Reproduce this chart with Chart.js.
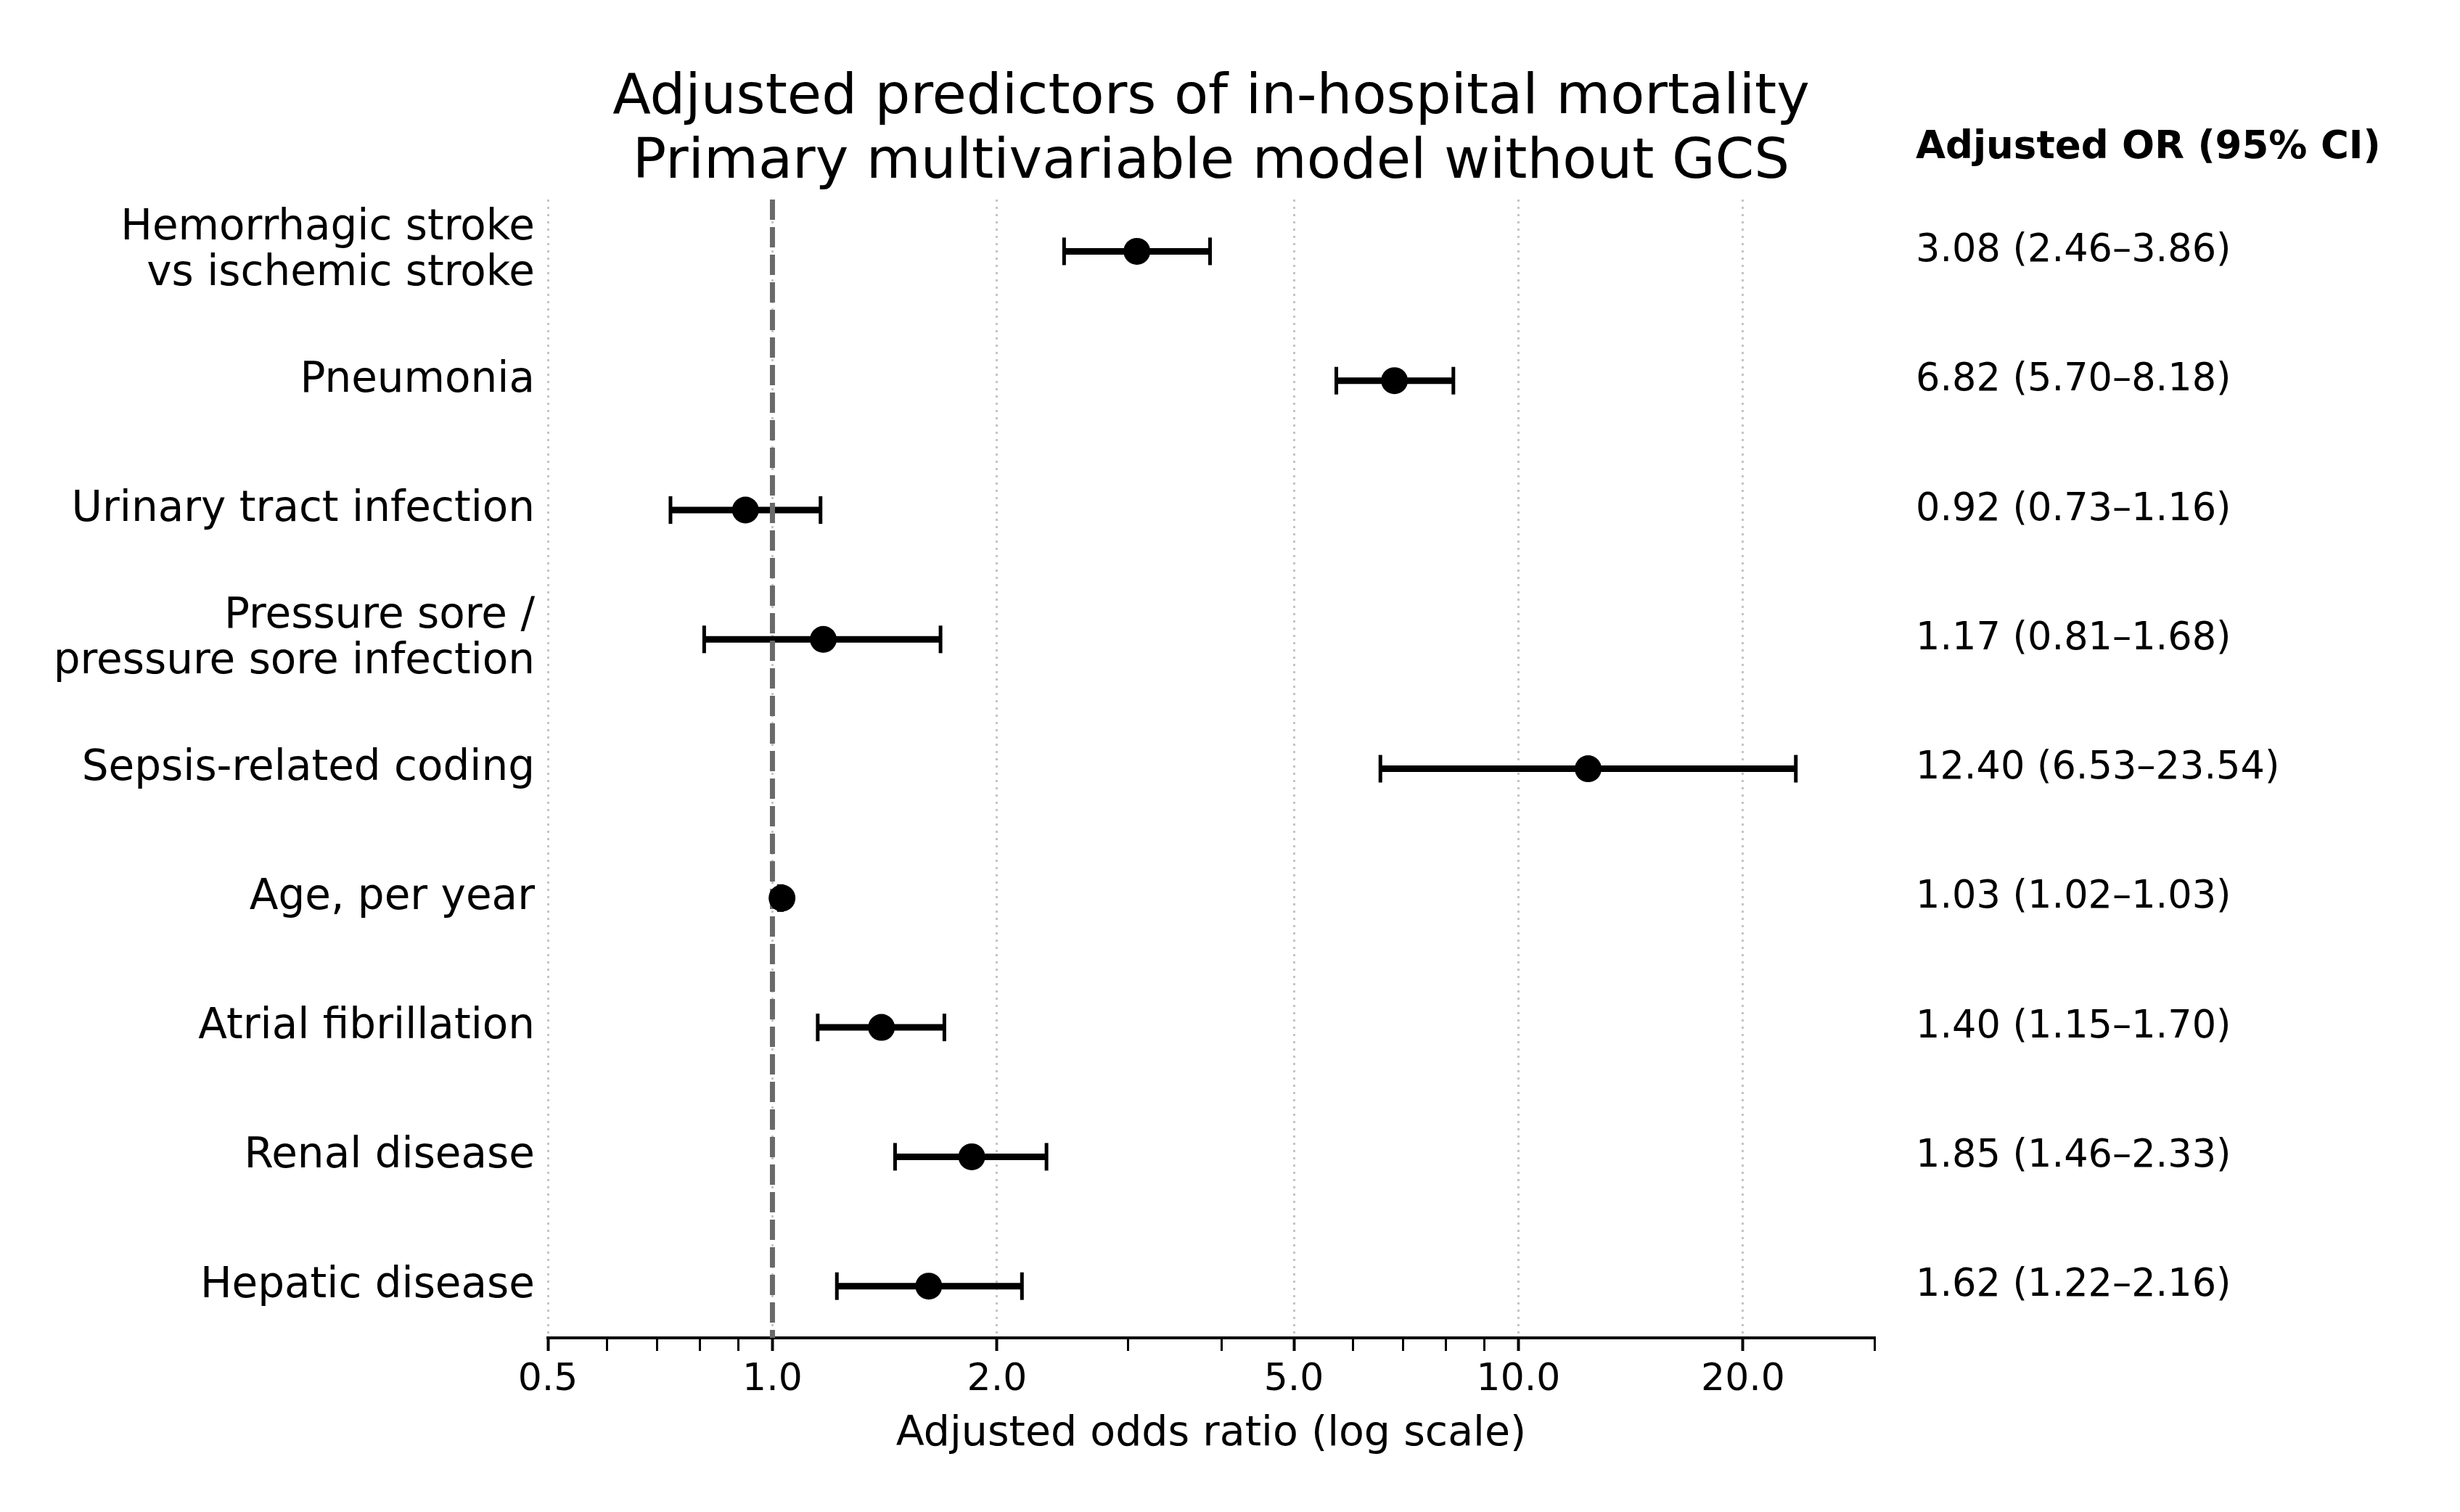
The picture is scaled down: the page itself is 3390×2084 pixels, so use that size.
<!DOCTYPE html>
<html>
<head>
<meta charset="utf-8">
<title>Adjusted predictors of in-hospital mortality</title>
<script src="https://cdn.jsdelivr.net/npm/chart.js@4.4.1/dist/chart.umd.min.js"></script>
<style>
  html, body { margin: 0; padding: 0; background: #fff; }
</style>
</head>
<body>
<canvas id="forest" width="3390" height="2084"></canvas>
<script>
// rows, top to bottom
const predictors = [
  ['Hemorrhagic stroke', 'vs ischemic stroke'],
  'Pneumonia',
  'Urinary tract infection',
  ['Pressure sore /', 'pressure sore infection'],
  'Sepsis-related coding',
  'Age, per year',
  'Atrial fibrillation',
  'Renal disease',
  'Hepatic disease'
];
const oddsRatio = [3.08, 6.82, 0.92, 1.17, 12.40, 1.03, 1.40, 1.85, 1.62];
const ciLow = [2.46, 5.70, 0.73, 0.81, 6.53, 1.02, 1.15, 1.46, 1.22];
const ciHigh = [3.86, 8.18, 1.16, 1.68, 23.54, 1.03, 1.70, 2.33, 2.16];

// x axis (log)
const majorTicks = [0.5, 1, 2, 5, 10, 20];
const minorTicks = [0.6, 0.7, 0.8, 0.9, 3, 4, 6, 7, 8, 9, 30];
const xMin = 0.5;
const xMax = 30;
const nullOR = 1;

const chartTitle = ['Adjusted predictors of in-hospital mortality', 'Primary multivariable model without GCS'];
const xTitle = 'Adjusted odds ratio (log scale)';
const orHeader = 'Adjusted OR (95% CI)';

const rowIdx = predictors.map((_, i) => i);
const yMin = -0.4;
const yMax = predictors.length - 1 + 0.4;
const orText = rowIdx.map(i =>
  oddsRatio[i].toFixed(2) + ' (' + ciLow[i].toFixed(2) + '\u2013' + ciHigh[i].toFixed(2) + ')');
const allTicks = majorTicks.concat(minorTicks).sort((a, b) => a - b);
const isMajor = v => majorTicks.includes(v);

Chart.defaults.font.family = "'DejaVu Sans', sans-serif";
Chart.defaults.color = '#000';

// bold header above the OR column
const headerPlugin = {
  id: 'orHeader',
  afterDraw(chart) {
    const { ctx, chartArea } = chart;
    ctx.save();
    ctx.font = "bold 53px 'DejaVu Sans'";
    ctx.fillStyle = '#000';
    ctx.textAlign = 'left';
    ctx.textBaseline = 'alphabetic';
    ctx.fillText(orHeader, chartArea.right + 57, chartArea.top - 57);
    ctx.restore();
  }
};

const ciSets = rowIdx.map(i => ({
  data: [{ x: ciLow[i], y: i }, { x: ciHigh[i], y: i }],
  showLine: true,
  borderColor: '#000',
  borderWidth: 9,
  borderCapStyle: 'butt',
  pointStyle: 'line',
  pointRotation: 90,
  pointRadius: 19,
  pointBorderWidth: 5,
  pointBorderColor: '#000',
  order: 2
}));

new Chart(document.getElementById('forest'), {
  type: 'scatter',
  data: {
    datasets: [
      {
        data: rowIdx.map(i => ({ x: oddsRatio[i], y: i })),
        pointStyle: 'circle',
        pointRadius: 18.5,
        backgroundColor: '#000',
        borderWidth: 0,
        order: 0
      },
      {
        data: [{ x: nullOR, y: yMin }, { x: nullOR, y: yMax }],
        showLine: true,
        borderColor: '#6a6a6a',
        borderWidth: 7,
        borderDash: [28, 10],
        pointRadius: 0,
        order: 1
      },
      ...ciSets
    ]
  },
  options: {
    responsive: false,
    animation: false,
    events: [],
    layout: { padding: { left: 0, right: 52, top: 0, bottom: 0 } },
    plugins: {
      legend: { display: false },
      tooltip: { enabled: false },
      title: {
        display: true,
        text: chartTitle,
        color: '#000',
        font: { size: 77, weight: 'normal', lineHeight: 1.15 },
        padding: { top: 92, bottom: 6 }
      }
    },
    scales: {
      x: {
        type: 'logarithmic',
        min: xMin,
        max: xMax,
        afterBuildTicks: axis => { axis.ticks = allTicks.map(v => ({ value: v })); },
        afterFit: axis => { axis.height = 240; },
        ticks: {
          autoSkip: false,
          maxRotation: 0,
          padding: 9,
          color: '#000',
          font: { size: 52 },
          callback: v => (isMajor(v) ? v.toFixed(1) : '')
        },
        grid: {
          color: ctx => (ctx.tick && isMajor(ctx.tick.value) ? '#c4c4c4' : 'rgba(0,0,0,0)'),
          lineWidth: 3,
          tickColor: '#000',
          tickLength: 18,
          tickWidth: ctx => (ctx.tick && isMajor(ctx.tick.value) ? 4 : 3)
        },
        border: { display: true, color: '#000', width: 4, dash: [3, 7] },
        title: {
          display: true,
          text: xTitle,
          color: '#000',
          font: { size: 57 },
          padding: { top: 0, bottom: 73 }
        }
      },
      y: {
        type: 'linear',
        position: 'left',
        reverse: true,
        min: yMin,
        max: yMax,
        afterBuildTicks: axis => { axis.ticks = rowIdx.map(i => ({ value: i })); },
        afterFit: axis => { axis.width = 755; },
        ticks: {
          autoSkip: false,
          padding: 18,
          color: '#000',
          font: { size: 58, lineHeight: 1.08 },
          callback: v => predictors[v]
        },
        grid: { display: false, drawTicks: false },
        border: { display: false }
      },
      y2: {
        type: 'linear',
        position: 'right',
        reverse: true,
        min: yMin,
        max: yMax,
        afterBuildTicks: axis => { axis.ticks = rowIdx.map(i => ({ value: i })); },
        afterFit: axis => { axis.width = 755; },
        ticks: {
          autoSkip: false,
          padding: 57,
          color: '#000',
          font: { size: 52.5 },
          callback: v => orText[v]
        },
        grid: { display: false, drawTicks: false },
        border: { display: false }
      }
    }
  },
  plugins: [headerPlugin]
});
</script>
</body>
</html>
